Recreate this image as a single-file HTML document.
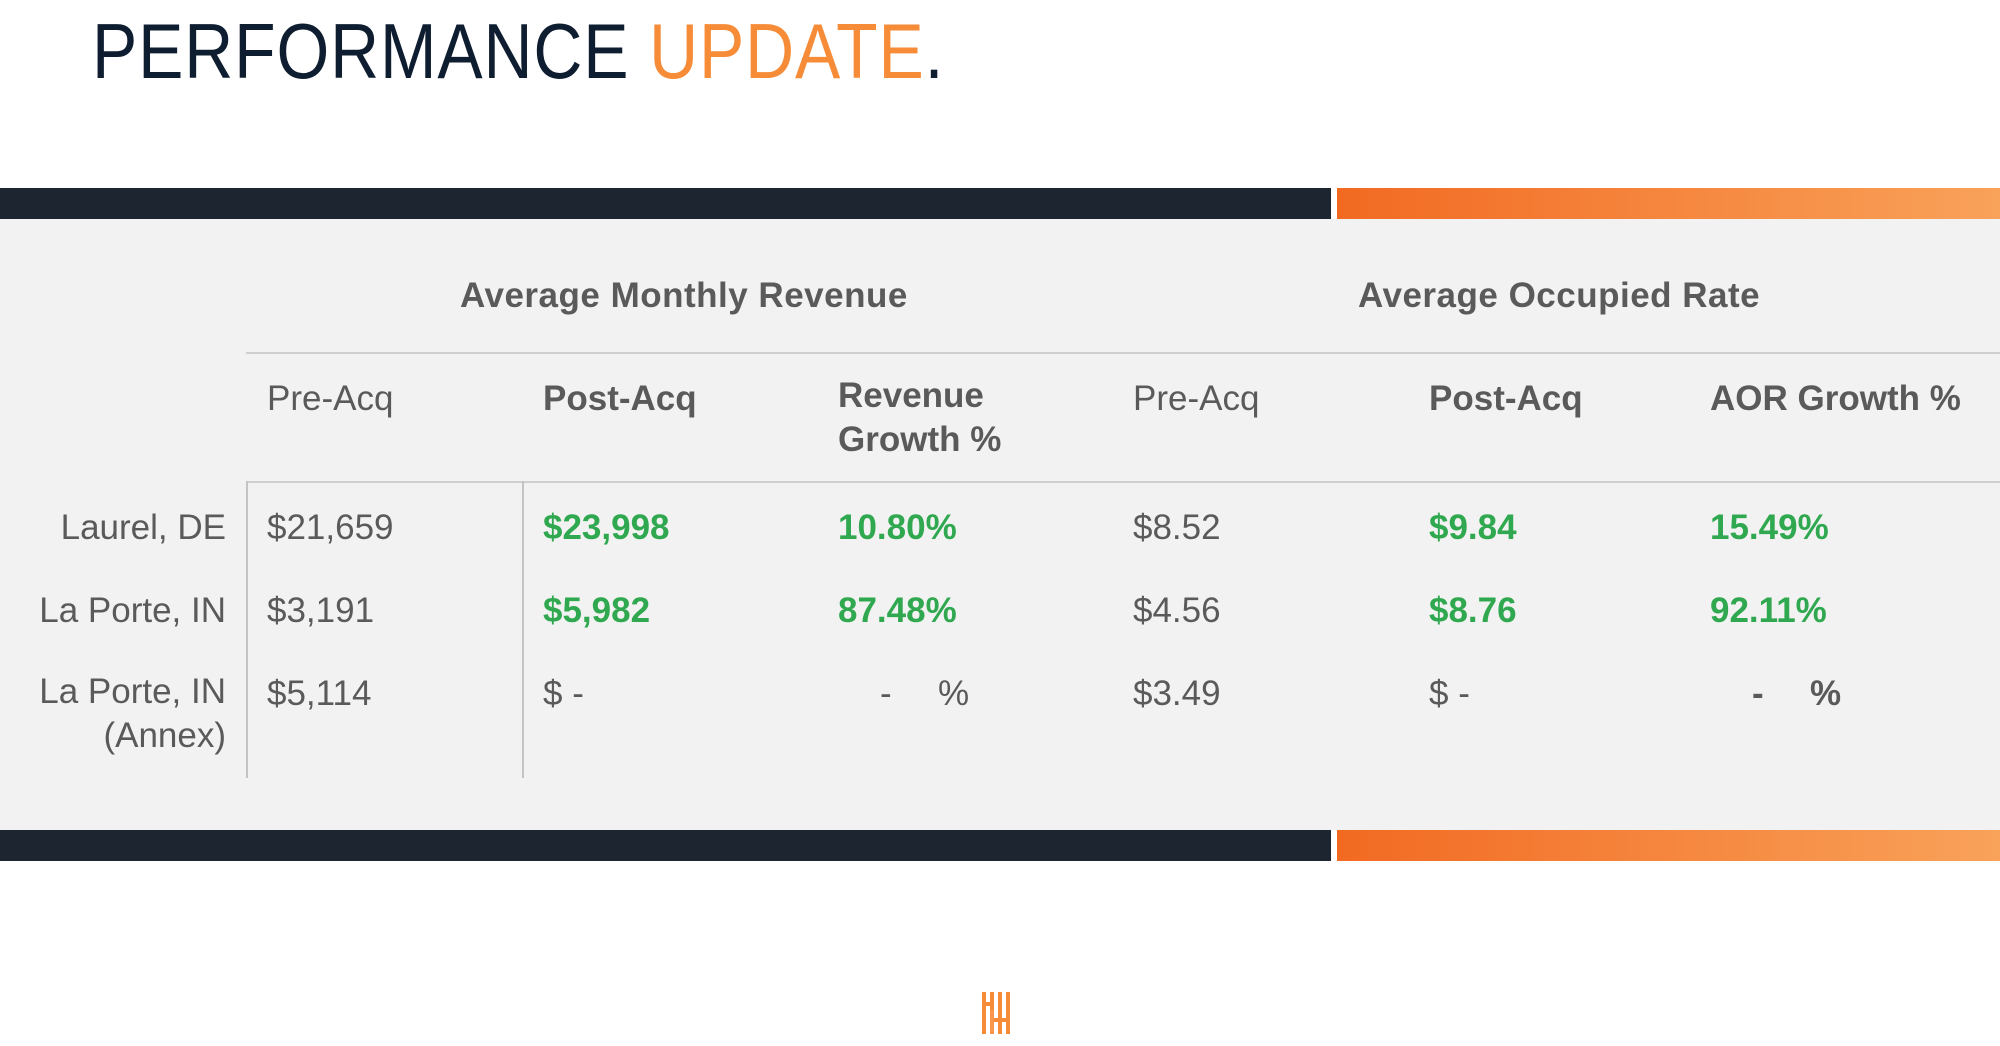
<!DOCTYPE html>
<html><head><meta charset="utf-8"><style>
body{margin:0;width:2000px;height:1046px;background:#fff;position:relative;overflow:hidden;font-family:"Liberation Sans",sans-serif}
.t{position:absolute;line-height:1;white-space:nowrap;font-size:35px;color:#5a5a5a}
.b{font-weight:bold}
.g{color:#2fa84f;font-weight:bold}
.h{font-weight:bold;color:#5a5a5a}
</style></head><body>
<div class="t" style="left:92px;top:12px;font-size:78px;color:#0e1d30;transform:scaleX(0.87);transform-origin:0 0;letter-spacing:1px">PERFORMANCE <span style="color:#f68b38">UPDATE</span>.</div>
<div style="position:absolute;left:0;top:188px;width:1331px;height:31px;background:#1d2630"></div>
<div style="position:absolute;left:1337px;top:188px;width:663px;height:31px;background:linear-gradient(90deg,#f26a22,#f9a25a)"></div>
<div style="position:absolute;left:0;top:219px;width:2000px;height:611px;background:#f2f2f2"></div>
<div style="position:absolute;left:0;top:830px;width:1331px;height:31px;background:#1d2630"></div>
<div style="position:absolute;left:1337px;top:830px;width:663px;height:31px;background:linear-gradient(90deg,#f26a22,#f9a25a)"></div>
<div style="position:absolute;left:246px;top:352px;width:1754px;height:2px;background:#cfcfcf"></div>
<div style="position:absolute;left:246px;top:481px;width:1754px;height:2px;background:#cfcfcf"></div>
<div style="position:absolute;left:246px;top:481px;width:2px;height:297px;background:#c4c4c4"></div>
<div style="position:absolute;left:522px;top:481px;width:2px;height:297px;background:#c4c4c4"></div>

<div class="t h" style="left:460px;top:278px;font-size:35px;letter-spacing:0.5px">Average Monthly Revenue</div>
<div class="t h" style="left:1358px;top:278px;font-size:35px;letter-spacing:0.5px">Average Occupied Rate</div>

<div class="t" style="left:267px;top:381px">Pre-Acq</div>
<div class="t b" style="left:543px;top:381px">Post-Acq</div>
<div class="t b" style="left:838px;line-height:44px;top:374px">Revenue<br>Growth %</div>
<div class="t" style="left:1133px;top:381px">Pre-Acq</div>
<div class="t b" style="left:1429px;top:381px">Post-Acq</div>
<div class="t b" style="left:1710px;top:381px">AOR Growth %</div>

<div class="t" style="right:1774px;top:510px">Laurel, DE</div>
<div class="t" style="right:1774px;top:593px">La Porte, IN</div>
<div class="t" style="right:1774px;text-align:right;line-height:44px;top:670px">La Porte, IN<br>(Annex)</div>

<div class="t" style="left:267px;top:510px">$21,659</div>
<div class="t g" style="left:543px;top:510px">$23,998</div>
<div class="t g" style="left:838px;top:510px">10.80%</div>
<div class="t" style="left:1133px;top:510px">$8.52</div>
<div class="t g" style="left:1429px;top:510px">$9.84</div>
<div class="t g" style="left:1710px;top:510px">15.49%</div>

<div class="t" style="left:267px;top:593px">$3,191</div>
<div class="t g" style="left:543px;top:593px">$5,982</div>
<div class="t g" style="left:838px;top:593px">87.48%</div>
<div class="t" style="left:1133px;top:593px">$4.56</div>
<div class="t g" style="left:1429px;top:593px">$8.76</div>
<div class="t g" style="left:1710px;top:593px">92.11%</div>

<div class="t" style="left:267px;top:676px">$5,114</div>
<div class="t" style="left:543px;top:676px">$ -</div>
<div class="t" style="left:880px;top:676px">-</div>
<div class="t" style="left:938px;top:676px">%</div>
<div class="t" style="left:1133px;top:676px">$3.49</div>
<div class="t" style="left:1429px;top:676px">$ -</div>
<div class="t b" style="left:1752px;top:676px">-</div>
<div class="t b" style="left:1810px;top:676px">%</div>

<svg style="position:absolute;left:980px;top:990px" width="32" height="46" viewBox="0 0 32 46">
<g fill="#f68b38">
<rect x="2" y="2" width="4" height="42"/><rect x="10" y="2" width="4" height="18"/><rect x="6" y="12" width="4" height="4"/>
<rect x="10" y="20" width="4" height="24" opacity=".9"/>
<rect x="18" y="2" width="4" height="42"/><rect x="22" y="28" width="4" height="4"/><rect x="26" y="2" width="4" height="42"/>
<rect x="14" y="28" width="4" height="4"/>
</g></svg>
</body></html>
